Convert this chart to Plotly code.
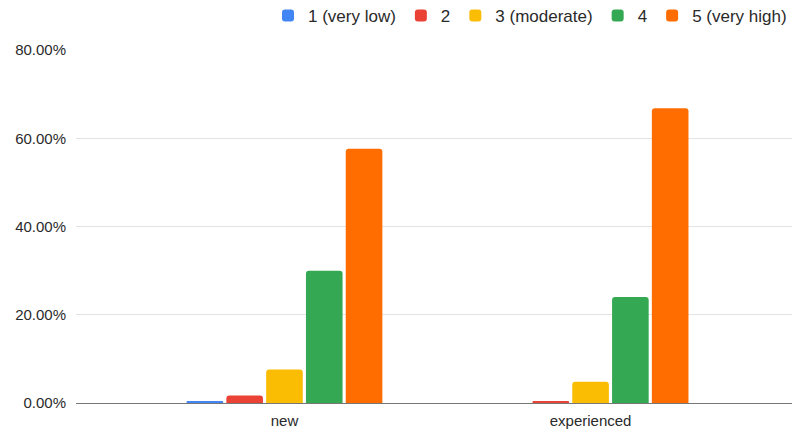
import plotly.graph_objects as go

categories = ["new", "experienced"]
series_names = ["1 (very low)", "2", "3 (moderate)", "4", "5 (very high)"]
values = {
    "1 (very low)": [0.004, 0.0],
    "2": [0.017, 0.004],
    "3 (moderate)": [0.076, 0.048],
    "4": [0.300, 0.240],
    "5 (very high)": [0.576, 0.668],
}
colors = ["#4285F4", "#EA4335", "#FBBC04", "#34A853", "#FF6D01"]
y_ticks = [0, 0.2, 0.4, 0.6, 0.8]

fig = go.Figure()
for name, col in zip(series_names, colors):
    fig.add_trace(go.Bar(
        x=categories, y=values[name], name=name,
        marker=dict(color=col, line=dict(width=0)),
    ))

txt = "#2a2a2a"
fig.update_layout(
    width=793, height=431,
    margin=dict(l=76, r=1, t=50, b=27.5, pad=0, autoexpand=False),
    paper_bgcolor="white", plot_bgcolor="white",
    barmode="group", bargap=0.35, bargroupgap=0.08,
    barcornerradius=3,
    font=dict(family="Liberation Sans, Arial, sans-serif", size=15, color=txt),
    legend=dict(
        orientation="h", x=1.0, xanchor="right", yref="container",
        y=0.963, yanchor="middle",
        font=dict(size=17, color=txt),
        bgcolor="rgba(0,0,0,0)", itemwidth=30, tracegroupgap=0,
        traceorder="normal",
    ),
    showlegend=True,
)
fig.update_xaxes(
    range=[-0.681, 1.658], showgrid=False, showline=False, zeroline=False,
    ticks="", tickfont=dict(size=15, color=txt), ticklabelstandoff=7,
)
fig.update_yaxes(
    range=[0, 0.8], tickvals=y_ticks, tickformat=".2%",
    showgrid=True, gridcolor="#e3e3e3", gridwidth=1,
    zeroline=True, zerolinecolor="#777777", zerolinewidth=1.3,
    showline=False, ticks="", tickfont=dict(size=15, color=txt),
    ticklabelstandoff=9,
)

fig.write_html("out.html")
